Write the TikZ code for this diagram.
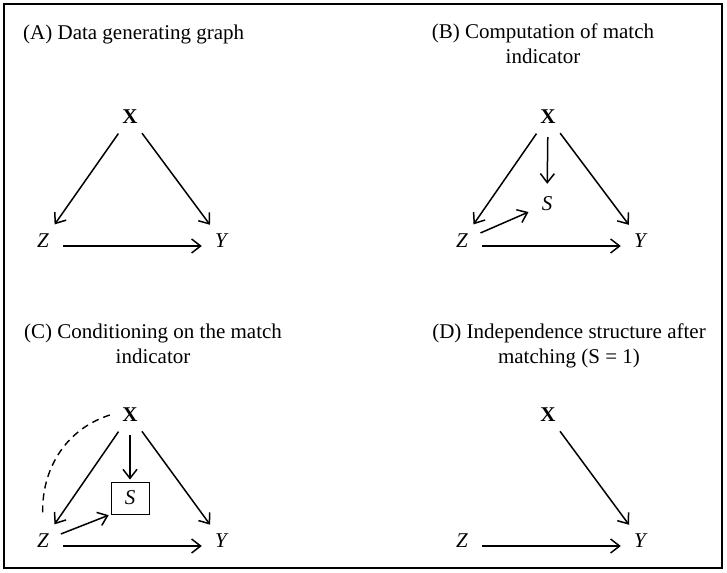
\documentclass[tikz,border=0pt]{standalone}
\usepackage{fontspec}
\setmainfont{Liberation Serif}
\usetikzlibrary{arrows.meta}
\begin{document}
\begin{tikzpicture}[x=1pt,y=-1pt,
 var/.style={circle,inner sep=0pt,minimum size=40pt,font=\fontsize{21}{25}\selectfont},
 sbox/.style={draw,line width=0.9pt,minimum width=38pt,minimum height=32pt,inner sep=0pt,font=\fontsize{21}{25}\selectfont},
 edge/.style={line width=1.5pt,-{Straight Barb[length=9pt,width=14pt,line width=1.5pt]}},
 ttl/.style={anchor=base,inner sep=0pt,align=center,font=\fontsize{21}{25}\selectfont},
 dashline/.style={line width=1.4pt,dash pattern=on 7pt off 5pt}]
\useasboundingbox (0,0) rectangle (727,572);
\draw[line width=2pt] (4,4) rectangle (722,568);
% titles (base anchor = last line baseline)
\node[ttl,anchor=base west] (tA) at (23,40) {(A) Data generating graph};
\node[ttl] (tB) at (543,64) {(B) Computation of match\\indicator};
\node[ttl] (tC) at (153,363) {(C) Conditioning on the match\\indicator};
\node[ttl] (tD) at (569,363) {(D) Independence structure after\\matching (S = 1)};
% panel A
\node[var] (Xa) at (130,117) {\textbf{X}};
\node[var] (Za) at (43,241) {\textit{Z}};
\node[var] (Ya) at (222,241) {\textit{Y}};
\draw[edge] (Xa) -- (Za);
\draw[edge] (Xa) -- (Ya);
\draw[edge] ([yshift=-5pt]Za.east) -- ([yshift=-5pt]Ya.west);
% panel B
\node[var] (Xb) at (548,117) {\textbf{X}};
\node[var] (Sb) at (547,204) {\textit{S}};
\node[var] (Zb) at (462,241) {\textit{Z}};
\node[var] (Yb) at (641,241) {\textit{Y}};
\draw[edge] (Xb) -- (Zb);
\draw[edge] (Xb) -- (Yb);
\draw[edge] (Xb) -- (Sb);
\draw[edge] (Zb) -- (Sb);
\draw[edge] ([yshift=-5pt]Zb.east) -- ([yshift=-5pt]Yb.west);
% panel C
\node[var] (Xc) at (130,415) {\textbf{X}};
\node[sbox] (Sc) at (130,498) {\textit{S}};
\node[var] (Zc) at (43,541) {\textit{Z}};
\node[var] (Yc) at (222,541) {\textit{Y}};
\draw[edge] (Xc) -- (Zc);
\draw[edge] (Xc) -- (Yc);
\draw[edge,shorten >=2pt] (Xc) -- (Sc);
\draw[edge,shorten >=2pt,shorten <=-1pt] (Zc) -- (Sc.south west);
\draw[edge] ([yshift=-5pt]Zc.east) -- ([yshift=-5pt]Yc.west);
\draw[dashline,shorten >=7pt] (Xc.west) to[out=198,in=92] (Zc.north);
% panel D
\node[var] (Xd) at (548,415) {\textbf{X}};
\node[var] (Zd) at (462,541) {\textit{Z}};
\node[var] (Yd) at (641,541) {\textit{Y}};
\draw[edge] (Xd) -- (Yd);
\draw[edge] ([yshift=-5pt]Zd.east) -- ([yshift=-5pt]Yd.west);
\end{tikzpicture}
\end{document}
